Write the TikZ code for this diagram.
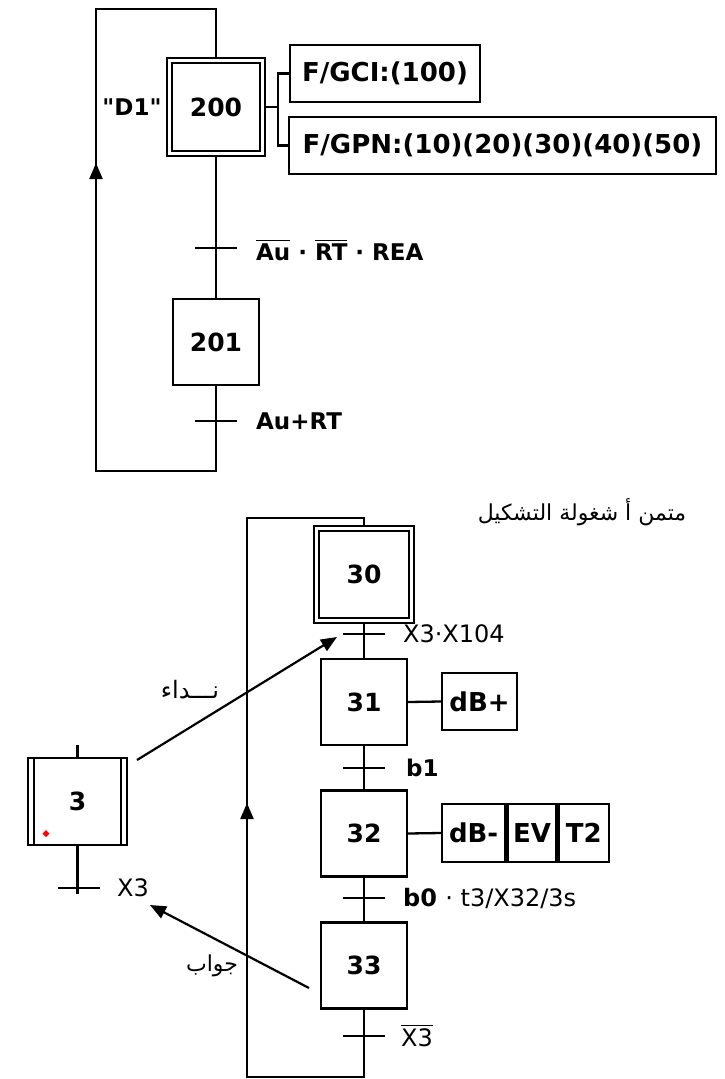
\documentclass[tikz,border=0pt]{standalone}
\usepackage{fontspec}
\setmainfont{DejaVu Sans}
\setmonofont{DejaVu Sans}
\newfontfamily\arabicfont[Script=Arabic]{DejaVu Sans}
\TeXXeTstate=1
\usetikzlibrary{arrows.meta}
\newcommand\ovl[1]{\leavevmode\vbox{\hrule height 1.4pt\kern 2.5pt\hbox{#1}}}
\newcommand\sq{{\ttfamily\bfseries\char34}}
\begin{document}
\begin{tikzpicture}[x=1pt,y=-1pt, line width=2.3pt,
 stepbox/.style={draw, minimum width=86pt, minimum height=86pt, inner sep=0pt, font=\fontsize{25}{28}\selectfont\bfseries},
 actbox/.style={draw, inner sep=0pt, minimum height=57pt, font=\fontsize{26}{30}\selectfont\bfseries},
 lbl/.style={anchor=west, inner sep=0pt, font=\fontsize{23}{26}\selectfont\bfseries},
 lblr/.style={anchor=west, inner sep=0pt, font=\fontsize{24}{26}\selectfont},
 arab/.style={font=\fontsize{22}{26}\selectfont\arabicfont, inner sep=0pt},
 link/.style={-{Triangle[length=16pt,width=13pt]}, line width=2.2pt},
]
\useasboundingbox (0,0) rectangle (724,1079);

% ---------- upper GRAFCET ----------
\node[stepbox, minimum width=98pt, minimum height=98pt] (s200) at (216,107) {200};
\draw ([xshift=6pt,yshift=-6pt]s200.north west) rectangle ([xshift=-6pt,yshift=6pt]s200.south east);
\node[stepbox] (s201) at (216,342) {201};
\node[font=\fontsize{23}{26}\selectfont\bfseries, inner sep=0pt] (d1) at (132,107) {\sq D1\sq};

\node[actbox, minimum width=190pt] (gci) at (385,73.5) {F/GCI:(100)};
\node[actbox, minimum width=427pt] (gpn) at (502.5,145.5) {F/GPN:(10)(20)(30)(40)(50)};
\coordinate (j1) at (278,107);
\draw (s200.east) -- (j1);
\draw (gci.west) -| (j1) |- (gpn.west);

\draw (s200.south) -- (s201.north);
\coordinate (t1) at (216,248);
\draw ([xshift=-21pt]t1) -- ([xshift=21pt]t1);
\node[lbl] (c1) at (255,250) {\ovl{Au} · \ovl{RT} · REA};

\coordinate (t2) at (216,421);
\coordinate (la) at (216,471);
\coordinate (lb) at (96,471);
\coordinate (lc) at (96,9);
\coordinate (ld) at (216,9);
\draw (s201.south) -- (la) -- (lb) -- (lc) -- (ld) -- (s200.north);
\draw ([xshift=-21pt]t2) -- ([xshift=21pt]t2);
\node[lbl] (c2) at (255,421) {Au+RT};
\coordinate (ar1a) at (96,215);
\coordinate (ar1b) at (96,163);
\draw[link] (ar1a) -- (ar1b);

% ---------- lower GRAFCET ----------
\node[arab] (title) at (582,512) {\beginR متمن أ شغولة التشكيل\endR};

\node[stepbox, minimum width=100pt, minimum height=97pt] (s30) at (364,574.5) {30};
\draw ([xshift=6pt,yshift=-6pt]s30.north west) rectangle ([xshift=-6pt,yshift=6pt]s30.south east);
\node[stepbox] (s31) at (364,702) {31};
\node[stepbox] (s32) at (364,833.5) {32};
\node[stepbox] (s33) at (364,965.5) {33};

\draw (s30.south) -- (s31.north);
\draw (s31.south) -- (s32.north);
\draw (s32.south) -- (s33.north);

\coordinate (t30) at (364,634);
\coordinate (t31) at (364,768);
\coordinate (t32) at (364,898);
\coordinate (t33) at (364,1036);
\foreach \t in {t30,t31,t32,t33}{\draw ([xshift=-21pt]\t) -- ([xshift=21pt]\t);}

\node[lblr] (c30) at (402,634) {X3·X104};
\node[lbl] (c31) at (405,768) {b1};
\node[lblr] (c32) at (402,898) {\bfseries b0 \mdseries· t3/X32/3s};
\node[lblr] (c33) at (400,1036) {\ovl{X3}};

\node[actbox, minimum width=75pt] (a31) at (479.5,701.5) {dB+};
\draw (s31.east) -- (a31.west);
\node[actbox, minimum width=63pt, minimum height=58pt, anchor=west] (a32a) at (441,833) {dB-};
\node[actbox, minimum width=49pt, minimum height=58pt, anchor=west] (a32b) at (a32a.east) {EV};
\node[actbox, minimum width=50pt, minimum height=58pt, anchor=west] (a32c) at (a32b.east) {T2};
\draw (s32.east) -- (a32a.west);

\coordinate (ba) at (364,1077);
\coordinate (bb) at (247,1077);
\coordinate (bc) at (247,518);
\coordinate (bd) at (364,518);
\draw (s33.south) -- (ba) -- (bb) -- (bc) -- (bd) -- (s30.north);
\coordinate (ar2a) at (247,855);
\coordinate (ar2b) at (247,803);
\draw[link] (ar2a) -- (ar2b);

% ---------- task step 3 ----------
\node[stepbox, minimum width=99pt, minimum height=87pt] (s3) at (77.5,801.5) {3};
\draw ([xshift=7pt]s3.north west) -- ([xshift=7pt]s3.south west);
\draw ([xshift=-7pt]s3.north east) -- ([xshift=-7pt]s3.south east);
\fill[red] (46,830) -- (49.5,833.5) -- (46,837) -- (42.5,833.5) -- cycle;
\coordinate (s3top) at (77.5,745);
\coordinate (s3bot) at (77.5,894);
\draw (s3top) -- (s3.north);
\draw (s3.south) -- (s3bot);
\coordinate (t3) at (78,888);
\draw ([xshift=-20pt]t3) -- ([xshift=22pt]t3);
\node[lblr] (c3) at (116,888) {X3};

% ---------- call / answer ----------
\coordinate (n1) at (137,760);
\coordinate (n2) at (337,637);
\draw[link] (n1) -- (n2);
\node[arab, font=\fontsize{24}{28}\selectfont\arabicfont] (call) at (190,690) {\beginR نـــداء\endR};

\coordinate (r1) at (309,988);
\coordinate (r2) at (150,905);
\draw[link] (r1) -- (r2);
\node[arab] (resp) at (212,966) {\beginR جواب\endR};
\end{tikzpicture}
\end{document}
